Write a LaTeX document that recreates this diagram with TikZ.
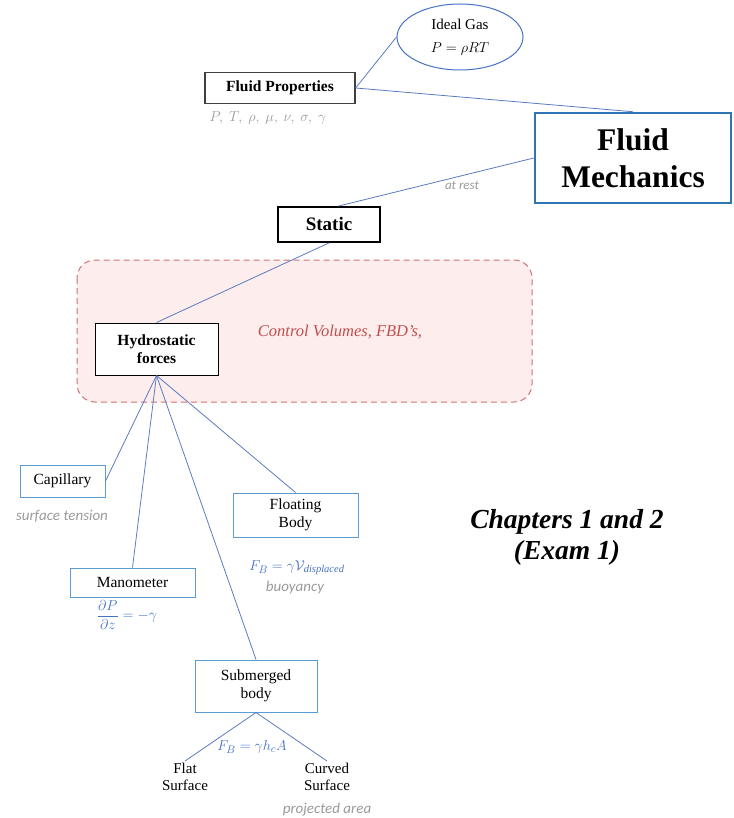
\documentclass[tikz,border=0pt]{standalone}
\usepackage{amsmath}
\usepackage{fontspec}
\setmainfont{Liberation Serif}
\newfontfamily\calib{Carlito}
\usetikzlibrary{shapes.geometric}
\definecolor{lineblue}{HTML}{5B7BC0}
\definecolor{boxblue}{HTML}{5B9BD5}
\definecolor{darkblue}{HTML}{2E75B6}
\definecolor{labgray}{HTML}{9A9A9A}
\definecolor{formblue}{HTML}{4472C4}
\definecolor{redtxt}{HTML}{C0504D}
\definecolor{pinkfill}{HTML}{FDEDED}
\begin{document}
\begin{tikzpicture}[x=1pt,y=-1pt,
  conn/.style={draw=lineblue, line width=0.8pt},
  bluebox/.style={draw=boxblue, line width=1pt, fill=white, align=center, inner sep=2pt, font=\fontsize{15.5}{18}\selectfont},
  blackbox/.style={draw=black, fill=white, align=center, inner sep=2pt, font=\fontsize{15.5}{18}\selectfont\bfseries},
  graylab/.style={text=labgray, font=\calib\fontsize{15}{16}\selectfont\itshape},
  formula/.style={text=formblue, font=\fontsize{15}{16}\selectfont},
  plain/.style={align=center, font=\fontsize{15}{17}\selectfont, inner sep=2pt}
]
\useasboundingbox (0,0) rectangle (733,818);

% dashed control-volume region
\draw[draw=redtxt!80, fill=pinkfill, dashed, dash pattern=on 6pt off 4pt, line width=1pt, rounded corners=18pt] (77,260) rectangle (532,402);
\node[text=redtxt, font=\fontsize{16.5}{18}\selectfont\itshape] (cv) at (340,332) {Control Volumes, FBD's,};

% nodes
\node[draw=darkblue, line width=2.5pt, fill=white, minimum width=196pt, minimum height=90pt, align=center, font=\fontsize{31.5}{37}\selectfont\bfseries] (fm) at (633,158) {Fluid\\Mechanics};
\node[draw=formblue, line width=1pt, fill=white, ellipse, minimum width=126pt, minimum height=66pt, inner sep=0pt, align=center, font=\fontsize{15}{23}\selectfont] (ig) at (460,37) {Ideal Gas\\$P=\rho RT$};
\node[blackbox, draw=black!75, line width=1.2pt, minimum width=150pt, minimum height=31pt] (fp) at (280,88) {Fluid Properties};
\node[blackbox, line width=1.8pt, minimum width=102pt, minimum height=35pt, font=\fontsize{19}{21}\selectfont\bfseries] (st) at (329,224.5) {Static};
\node[blackbox, line width=1pt, minimum width=123pt, minimum height=52pt] (hf) at (156.5,349) {Hydrostatic\\forces};
\node[bluebox, minimum width=85pt, minimum height=32pt] (cap) at (62.5,481) {Capillary};
\node[bluebox, minimum width=125pt, minimum height=29pt] (man) at (132.5,582.5) {Manometer};
\node[bluebox, minimum width=125pt, minimum height=44pt] (flo) at (295.5,515) {Floating\\Body};
\node[bluebox, minimum width=122pt, minimum height=52pt] (sub) at (256,686) {Submerged\\body};
\node[plain] (flat) at (185,777) {Flat\\Surface};
\node[plain] (curv) at (327,777) {Curved\\Surface};

% connectors
\draw[conn] (fp.east) -- (ig.west);
\draw[conn] (fp.east) -- (fm.north);
\draw[conn] (st.63) -- (fm.west);
\draw[conn] (st.south) -- (hf.north);
\draw[conn] (hf.south) -- (cap.east);
\draw[conn] (hf.south) -- (man.north);
\draw[conn] (hf.south) -- (sub.north);
\draw[conn] (hf.south) -- (flo.north);
\draw[conn] (sub.south) -- (flat.north);
\draw[conn] (sub.south) -- (curv.north);

% labels
\node[text=labgray, font=\fontsize{14}{16}\selectfont] (fplab) at (268,118) {$P,\ T,\ \rho,\ \mu,\ \nu,\ \sigma,\ \gamma$};
\node[graylab, font=\calib\fontsize{13}{14}\selectfont\itshape] (rest) at (462,185) {at rest};
\node[graylab] (surf) at (62,516) {surface tension};
\node[formula] (dpdz) at (127,615) {$\dfrac{\partial P}{\partial z}=-\gamma$};
\node[formula] (fb1) at (297,568) {$F_B=\gamma\mathcal{V}_{\mathit{displaced}}$};
\node[graylab] (buoy) at (295,587) {buoyancy};
\node[formula] (fb2) at (252,747) {$F_B=\gamma h_c A$};
\node[graylab] (proj) at (327,810) {projected area};
\node[align=center, font=\fontsize{27.5}{31}\selectfont\bfseries\itshape] (chap) at (567,537) {Chapters 1 and 2\\(Exam 1)};
\end{tikzpicture}
\end{document}
